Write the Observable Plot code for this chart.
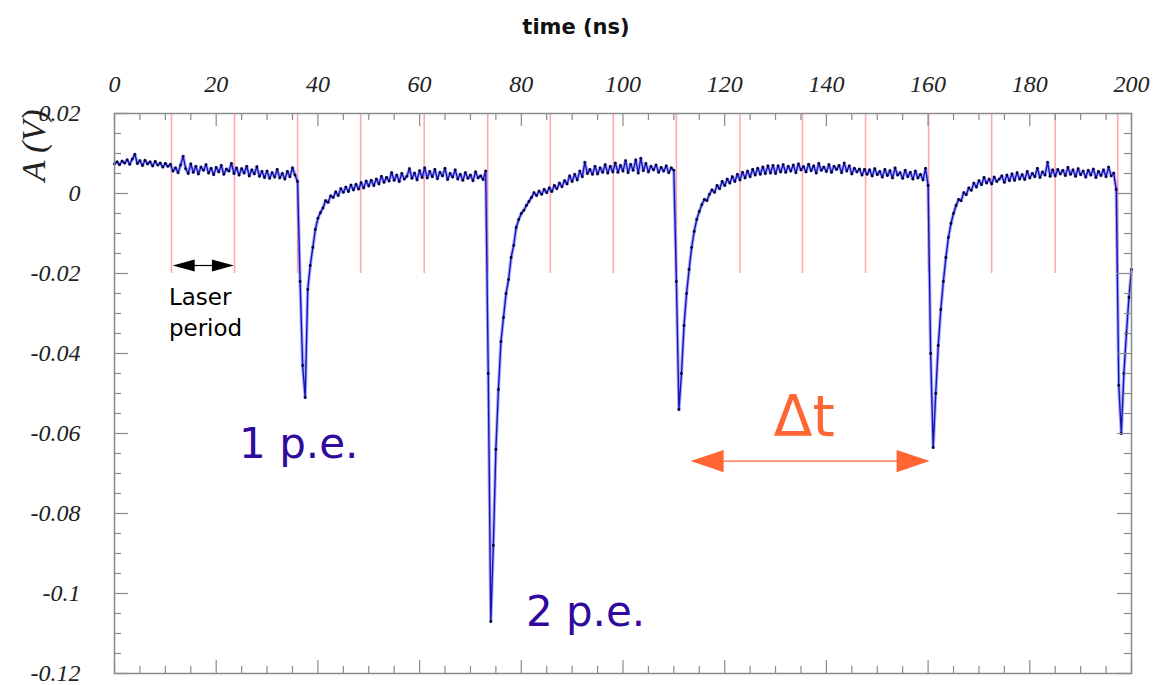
<!DOCTYPE html>
<html><head><meta charset="utf-8">
<script src="https://cdn.jsdelivr.net/npm/d3@7"></script>
<script src="https://cdn.jsdelivr.net/npm/@observablehq/plot@0.6"></script>
<style>html,body{margin:0;padding:0;background:#fff;} #chart svg{display:block;overflow:visible}</style>
</head><body><div id="chart"></div>
<script>
// Digitised waveform: one sample every 0.5 ns starting at 0 ns, amplitude in mV
const sampleStart_ns = 0;
const sampleStep_ns = 0.5;
const amplitude_mV = [
  7.4, 7.9, 7.2, 8.1, 7.6, 8.4, 7.3, 8.6, 9.8, 7.5,
  8.2, 7.0, 8.3, 7.4, 7.9, 6.9, 8.0, 7.1, 7.6, 6.6,
  7.5, 6.8, 7.3, 5.6, 6.4, 5.2, 7.1, 9.3, 6.2, 5.0,
  7.4, 5.3, 6.8, 4.9, 6.6, 5.8, 7.2, 5.1, 6.3, 4.7,
  6.5, 5.4, 7.0, 4.8, 6.1, 5.6, 7.5, 5.0, 6.4, 4.6,
  6.2, 5.1, 6.8, 4.4, 5.9, 4.9, 6.7, 4.3, 5.5, 4.0,
  5.6, 3.8, 5.2, 4.1, 6.0, 3.9, 5.0, 3.6, 5.5, 4.2,
  6.4, 4.6, 3.0, -22, -43, -51, -24, -18, -13.5, -9,
  -6.2, -4.8, -3.6, -1.8, -2.2, -0.6, -1.0, 0.4, -0.5, 1.2,
  0.3, 1.6, 0.5, 2.1, 0.9, 2.3, 1.1, 2.7, 1.4, 3.1,
  1.9, 3.3, 2.0, 3.6, 2.4, 4.3, 2.8, 4.0, 3.1, 5.2,
  3.3, 4.6, 3.0, 5.0, 3.6, 4.3, 6.2, 3.8, 5.1, 3.4,
  5.7, 4.0, 6.4, 3.9, 5.5, 4.2, 6.0, 3.7, 5.3, 4.4,
  6.3, 3.5, 5.0, 4.1, 5.9, 3.6, 4.8, 3.3, 5.2, 3.8,
  4.6, 3.2, 5.4, 3.9, 4.4, 3.5, 5.6, -45, -107, -88,
  -64, -49, -37, -31, -25, -21.5, -16, -13, -8.5, -6.5,
  -5.0, -4.2, -3.0, -2.0, -1.0, 0.2, -0.5, 0.6, -0.2, 1.0,
  0.2, 1.4, 0.5, 2.0, 1.2, 2.6, 1.7, 3.2, 2.4, 4.4,
  3.0, 4.8, 3.4, 5.6, 4.2, 7.8, 5.0, 6.0, 4.8, 6.8,
  4.9, 6.4, 5.3, 7.2, 5.1, 6.8, 5.4, 7.6, 5.3, 7.0,
  5.6, 8.2, 5.2, 7.3, 5.8, 8.4, 5.1, 8.8, 5.7, 7.5,
  5.4, 6.8, 5.9, 7.1, 5.3, 6.5, 5.6, 6.9, 5.2, 6.4,
  5.8, -22, -54, -45, -33, -25, -19, -13.5, -9.5, -6.5,
  -4.5, -2.8, -1.5, -1.8, -0.2, 0.9, 0.3, 2.0, 1.2, 3.0,
  2.0, 3.6, 2.6, 4.2, 3.0, 4.8, 3.4, 5.3, 3.9, 5.6,
  4.2, 6.0, 4.6, 6.3, 4.8, 6.6, 5.0, 6.9, 5.1, 7.0,
  5.0, 6.9, 5.4, 7.2, 5.3, 6.8, 5.6, 7.1, 5.2, 7.4,
  5.9, 6.7, 5.4, 7.3, 5.7, 6.9, 5.1, 7.5, 5.8, 6.6,
  5.5, 7.2, 5.3, 6.8, 6.0, 7.0, 5.2, 7.6, 5.6, 6.9,
  4.9, 6.3, 5.4, 6.1, 4.6, 6.0, 4.8, 5.9, 4.4, 6.2,
  4.7, 5.5, 4.1, 6.0, 4.5, 5.7, 3.9, 6.4, 4.6, 5.2,
  3.8, 5.8, 4.2, 5.3, 3.6, 5.6, 3.9, 4.8, 3.4, 6.3,
  2.0, -40, -63.5, -50, -38, -29, -22, -16, -11, -7.5,
  -5.0, -3.0, -1.5, -1.8, 0.2, -0.3, 1.4, 0.8, 2.6, 1.6,
  3.2, 2.2, 4.0, 2.6, 3.6, 2.4, 4.1, 3.0, 3.6, 4.4,
  2.8, 4.6, 3.2, 4.9, 3.3, 5.2, 3.6, 4.7, 3.5, 5.5,
  3.9, 5.0, 4.2, 6.3, 4.0, 5.4, 4.6, 7.8, 4.3, 5.9,
  4.4, 6.0, 4.9, 5.8, 4.5, 6.5, 4.8, 5.9, 4.3, 6.2,
  4.7, 5.6, 4.1, 5.8, 4.6, 6.1, 4.0, 5.5, 4.5, 5.9,
  4.2, 6.6, 4.4, 5.1, 1.0, -48, -60, -45, -35, -26,
  -19
];

// Laser trigger times (red markers), ns
const laserPulse_ns = [11.2, 23.6, 36.0, 48.4, 60.9, 73.4, 85.7, 98.1, 110.5, 123.0, 135.3, 147.7, 160.1, 172.5, 185.0, 197.3];

// Axis ticks
const xMajorTicks = [0, 20, 40, 60, 80, 100, 120, 140, 160, 180, 200];
const xMinorTicks = d3.range(0, 201, 5).filter(v => v % 20 !== 0);
const yMajorTicks = [-0.12, -0.1, -0.08, -0.06, -0.04, -0.02, 0, 0.02];
const yMinorTicks = d3.range(-24, 5).map(k => k * 0.005).filter(v => Math.abs(Math.round(v * 1000) % 20) !== 0);

// Annotations
const peLabels = ["1 p.e.", "2 p.e."];
const peLabelTime_ns = [24.5, 80.9];
const peLabelAmp_V = [-0.066, -0.108];
const laserLabels = ["Laser", "period"];
const laserLabelTime_ns = [10.7, 10.7];
const laserLabelAmp_V = [-0.02775, -0.0355];
const laserArrow_ns = [11.44, 23.49];
const laserArrowAmp_V = -0.018;
const deltaLabel = "Δt";
const deltaLabelTime_ns = 129.6;
const deltaLabelAmp_V = -0.0605;
const deltaArrow_ns = [113.3, 160.3];
const deltaArrowAmp_V = -0.0669;

const waveform = amplitude_mV.map((mv, i) => ({t: sampleStart_ns + i * sampleStep_ns, v: mv / 1000}));

function head(ratio, dir) {
  return {draw(ctx, size) {
    const r = Math.sqrt(size / Math.PI);
    ctx.moveTo(0, 0);
    ctx.lineTo(-dir * 2 * r, -ratio * r);
    ctx.lineTo(-dir * 2 * r, ratio * r);
    ctx.closePath();
  }};
}

const frameCol = "#8a8a8a";
const serif = "Liberation Serif";
const yTop = 0.02, yBot = -0.12;

const chart = Plot.plot({
  width: 1157,
  height: 685,
  marginLeft: 114,
  marginRight: 26,
  marginTop: 113,
  marginBottom: 12,
  x: {domain: [0, 200]},
  y: {domain: [yBot, yTop]},
  style: {background: "white", fontFamily: "DejaVu Sans"},
  marks: [
    // laser trigger markers
    Plot.ruleX(laserPulse_ns, {x: d => d, y1: yTop, y2: -0.02, stroke: "#ffaaaa", strokeWidth: 1.6}),
    // waveform
    Plot.line(waveform, {x: "t", y: "v", stroke: "#6060ff", strokeWidth: 3.4, strokeOpacity: 0.5}),
    Plot.line(waveform, {x: "t", y: "v", stroke: "#1515b5", strokeWidth: 1.4}),
    Plot.dot(waveform, {x: "t", y: "v", r: 1.4, fill: "#000035", stroke: null}),
    // frame and ticks
    Plot.frame({stroke: frameCol, strokeWidth: 1.5}),
    Plot.ruleX(xMajorTicks, {x: d => d, y1: yTop, y2: yTop, insetBottom: -13, stroke: frameCol, strokeWidth: 1.2}),
    Plot.ruleX(xMinorTicks, {x: d => d, y1: yTop, y2: yTop, insetBottom: -7, stroke: frameCol, strokeWidth: 1.2}),
    Plot.ruleX(xMajorTicks, {x: d => d, y1: yBot, y2: yBot, insetTop: -13, stroke: frameCol, strokeWidth: 1.2}),
    Plot.ruleX(xMinorTicks, {x: d => d, y1: yBot, y2: yBot, insetTop: -7, stroke: frameCol, strokeWidth: 1.2}),
    Plot.ruleY(yMajorTicks, {y: d => d, x1: 0, x2: 0, insetRight: -14, stroke: frameCol, strokeWidth: 1.2}),
    Plot.ruleY(yMinorTicks, {y: d => d, x1: 0, x2: 0, insetRight: -7, stroke: frameCol, strokeWidth: 1.2}),
    Plot.ruleY(yMajorTicks, {y: d => d, x1: 200, x2: 200, insetLeft: -14, stroke: frameCol, strokeWidth: 1.2}),
    Plot.ruleY(yMinorTicks, {y: d => d, x1: 200, x2: 200, insetLeft: -7, stroke: frameCol, strokeWidth: 1.2}),
    // axis labels
    Plot.axisX({anchor: "top", ticks: xMajorTicks, tickSize: 0, tickPadding: 22, tickFormat: d => String(d),
      fontSize: 24, fontStyle: "italic", fontFamily: serif, fill: "#222", label: null}),
    Plot.axisY({anchor: "left", ticks: yMajorTicks, tickSize: 0, tickPadding: 34, tickFormat: d => String(+d.toFixed(2)),
      fontSize: 24, fontStyle: "italic", fontFamily: serif, fill: "#222", label: null}),
    Plot.text(["A (V)"], {frameAnchor: "top-left", dx: -70, dy: -4, rotate: -90, textAnchor: "end", lineAnchor: "bottom",
      fontSize: 34, fontStyle: "italic", fontFamily: serif, fill: "#222"}),
    Plot.text(["time (ns)"], {frameAnchor: "top", dx: -47, dy: -80, lineAnchor: "bottom", fontSize: 21, fontWeight: "bold", fill: "#111"}),
    // Laser period annotation
    Plot.link([laserArrow_ns], {x1: d => d[0] + 3, x2: d => d[1] - 3, y1: laserArrowAmp_V, y2: laserArrowAmp_V, stroke: "black", strokeWidth: 1.2}),
    Plot.dot([laserArrow_ns[0]], {x: d => d, y: laserArrowAmp_V, r: 11, symbol: head(0.55, -1), fill: "black", stroke: null}),
    Plot.dot([laserArrow_ns[1]], {x: d => d, y: laserArrowAmp_V, r: 11, symbol: head(0.55, 1), fill: "black", stroke: null}),
    Plot.text(laserLabels, {x: (d, i) => laserLabelTime_ns[i], y: (d, i) => laserLabelAmp_V[i], text: d => d,
      textAnchor: "start", lineAnchor: "bottom", fontSize: 23, fontFamily: "DejaVu Sans", fill: "black"}),
    // p.e. labels
    Plot.text(peLabels, {x: (d, i) => peLabelTime_ns[i], y: (d, i) => peLabelAmp_V[i], text: d => d,
      textAnchor: "start", lineAnchor: "bottom", fontSize: 42, fontFamily: "DejaVu Sans", fill: "#2f0a9c"}),
    // delta t annotation
    Plot.link([deltaArrow_ns], {x1: d => d[0] + 4, x2: d => d[1] - 4, y1: deltaArrowAmp_V, y2: deltaArrowAmp_V, stroke: "#ff6633", strokeWidth: 1.4}),
    Plot.dot([deltaArrow_ns[0]], {x: d => d, y: deltaArrowAmp_V, r: 16.5, symbol: head(0.67, -1), fill: "#ff6633", stroke: null}),
    Plot.dot([deltaArrow_ns[1]], {x: d => d, y: deltaArrowAmp_V, r: 16.5, symbol: head(0.67, 1), fill: "#ff6633", stroke: null}),
    Plot.text([deltaLabel], {x: deltaLabelTime_ns, y: deltaLabelAmp_V, text: d => d, textAnchor: "start", lineAnchor: "bottom",
      fontSize: 57, fontFamily: "DejaVu Sans", fill: "#ff6633"})
  ]
});
document.getElementById("chart").appendChild(chart);
</script>
</body></html>
